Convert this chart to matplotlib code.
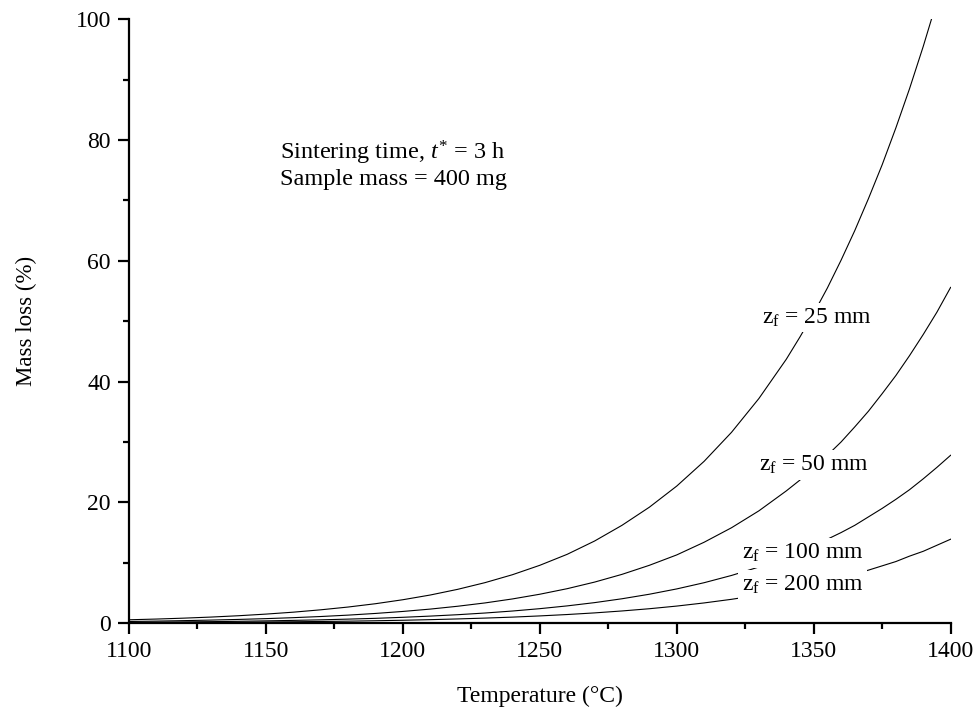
"""Mass loss vs. sintering temperature for several furnace zone lengths."""

import matplotlib.pyplot as plt

plt.rcParams['font.family'] = ['Liberation Serif', 'DejaVu Serif']
plt.rcParams['mathtext.fontset'] = 'custom'
plt.rcParams['mathtext.rm'] = 'Liberation Serif'
plt.rcParams['mathtext.it'] = 'Liberation Serif:italic'

# Data (temperature in degC, mass loss in %)
temperature = [1100, 1110, 1120, 1130, 1140, 1150, 1160, 1170, 1180, 1190,
               1200, 1210, 1220, 1230, 1240, 1250, 1260, 1270, 1280, 1290,
               1300, 1310, 1320, 1330, 1340, 1345, 1350, 1355, 1360, 1365,
               1370, 1375, 1380, 1385, 1390, 1395, 1400]
loss_25mm = [0.56, 0.68, 0.83, 1.01, 1.23, 1.50, 1.82, 2.21, 2.67, 3.22,
             3.88, 4.66, 5.60, 6.71, 8.02, 9.58, 11.4, 13.6, 16.2, 19.2,
             22.7, 26.8, 31.6, 37.2, 43.7, 47.4, 51.3, 55.5, 60.1, 65.0,
             70.3, 75.9, 82.0, 88.5, 95.5, 103.0, 111.1]
loss_50mm = [0.28, 0.34, 0.42, 0.51, 0.62, 0.75, 0.91, 1.10, 1.33, 1.61,
             1.94, 2.33, 2.80, 3.35, 4.01, 4.79, 5.71, 6.80, 8.08, 9.58,
             11.3, 13.4, 15.8, 18.6, 21.9, 23.7, 25.7, 27.8, 30.0, 32.5,
             35.1, 38.0, 41.0, 44.3, 47.8, 51.5, 55.6]
loss_100mm = [0.14, 0.17, 0.21, 0.25, 0.31, 0.38, 0.46, 0.55, 0.67, 0.80,
              0.97, 1.17, 1.40, 1.68, 2.01, 2.40, 2.86, 3.40, 4.04, 4.79,
              5.67, 6.70, 7.90, 9.30, 10.9, 11.85, 12.8, 13.9, 15.0, 16.2,
              17.6, 19.0, 20.5, 22.1, 23.9, 25.8, 27.8]
loss_200mm = [0.07, 0.09, 0.10, 0.13, 0.15, 0.19, 0.23, 0.28, 0.33, 0.40,
              0.48, 0.58, 0.70, 0.84, 1.00, 1.20, 1.43, 1.70, 2.02, 2.39,
              2.83, 3.35, 3.95, 4.65, 5.46, 5.93, 6.41, 6.94, 7.51, 8.12,
              8.78, 9.49, 10.2, 11.1, 11.9, 12.9, 13.9]

labels = ["25", "50", "100", "200"]
label_pos = [(1351, 50.6), (1350, 26.2), (1346, 11.6), (1346, 6.3)]

fig = plt.figure(figsize=(9.77, 7.13), dpi=100)
ax = fig.add_axes([0.132, 0.126, 0.841, 0.847])

for series in [loss_25mm, loss_50mm, loss_100mm, loss_200mm]:
    ax.plot(temperature, series, color='black', lw=0.8, zorder=2)

# curve labels sit on white boxes that cut the lines, as in the original
for lab, (tx, ty) in zip(labels, label_pos):
    ax.text(tx, ty, r"z$_\mathrm{f}$ = " + lab + " mm", fontsize=17,
            ha='center', va='center', zorder=4,
            bbox=dict(facecolor='white', edgecolor='none', pad=2.5))

ax.text(1155, 77.9, r"Sintering time, $t^{*}$ = 3 h", fontsize=17.5,
        ha='left', va='center')
ax.text(1155, 73.4, "Sample mass = 400 mg", fontsize=17.5,
        ha='left', va='center')

ax.set_xlim(1100, 1400)
ax.set_ylim(0, 100)
ax.set_xticks([1100, 1150, 1200, 1250, 1300, 1350, 1400])
ax.set_xticks([1125, 1175, 1225, 1275, 1325, 1375], minor=True)
ax.set_yticks([0, 20, 40, 60, 80, 100])
ax.set_yticks([10, 30, 50, 70, 90], minor=True)

for side in ['top', 'right']:
    ax.spines[side].set_visible(False)
for side in ['left', 'bottom']:
    ax.spines[side].set_linewidth(1.6)

ax.tick_params(which='major', direction='out', length=8, width=1.6,
               labelsize=17, pad=5)
ax.tick_params(which='minor', direction='out', length=4.5, width=1.6)

ax.set_xlabel("Temperature (°C)", fontsize=17, labelpad=17)
ax.set_ylabel("Mass loss (%)", fontsize=16.5, labelpad=28)

fig.savefig("out.png", dpi=100, facecolor='white')
